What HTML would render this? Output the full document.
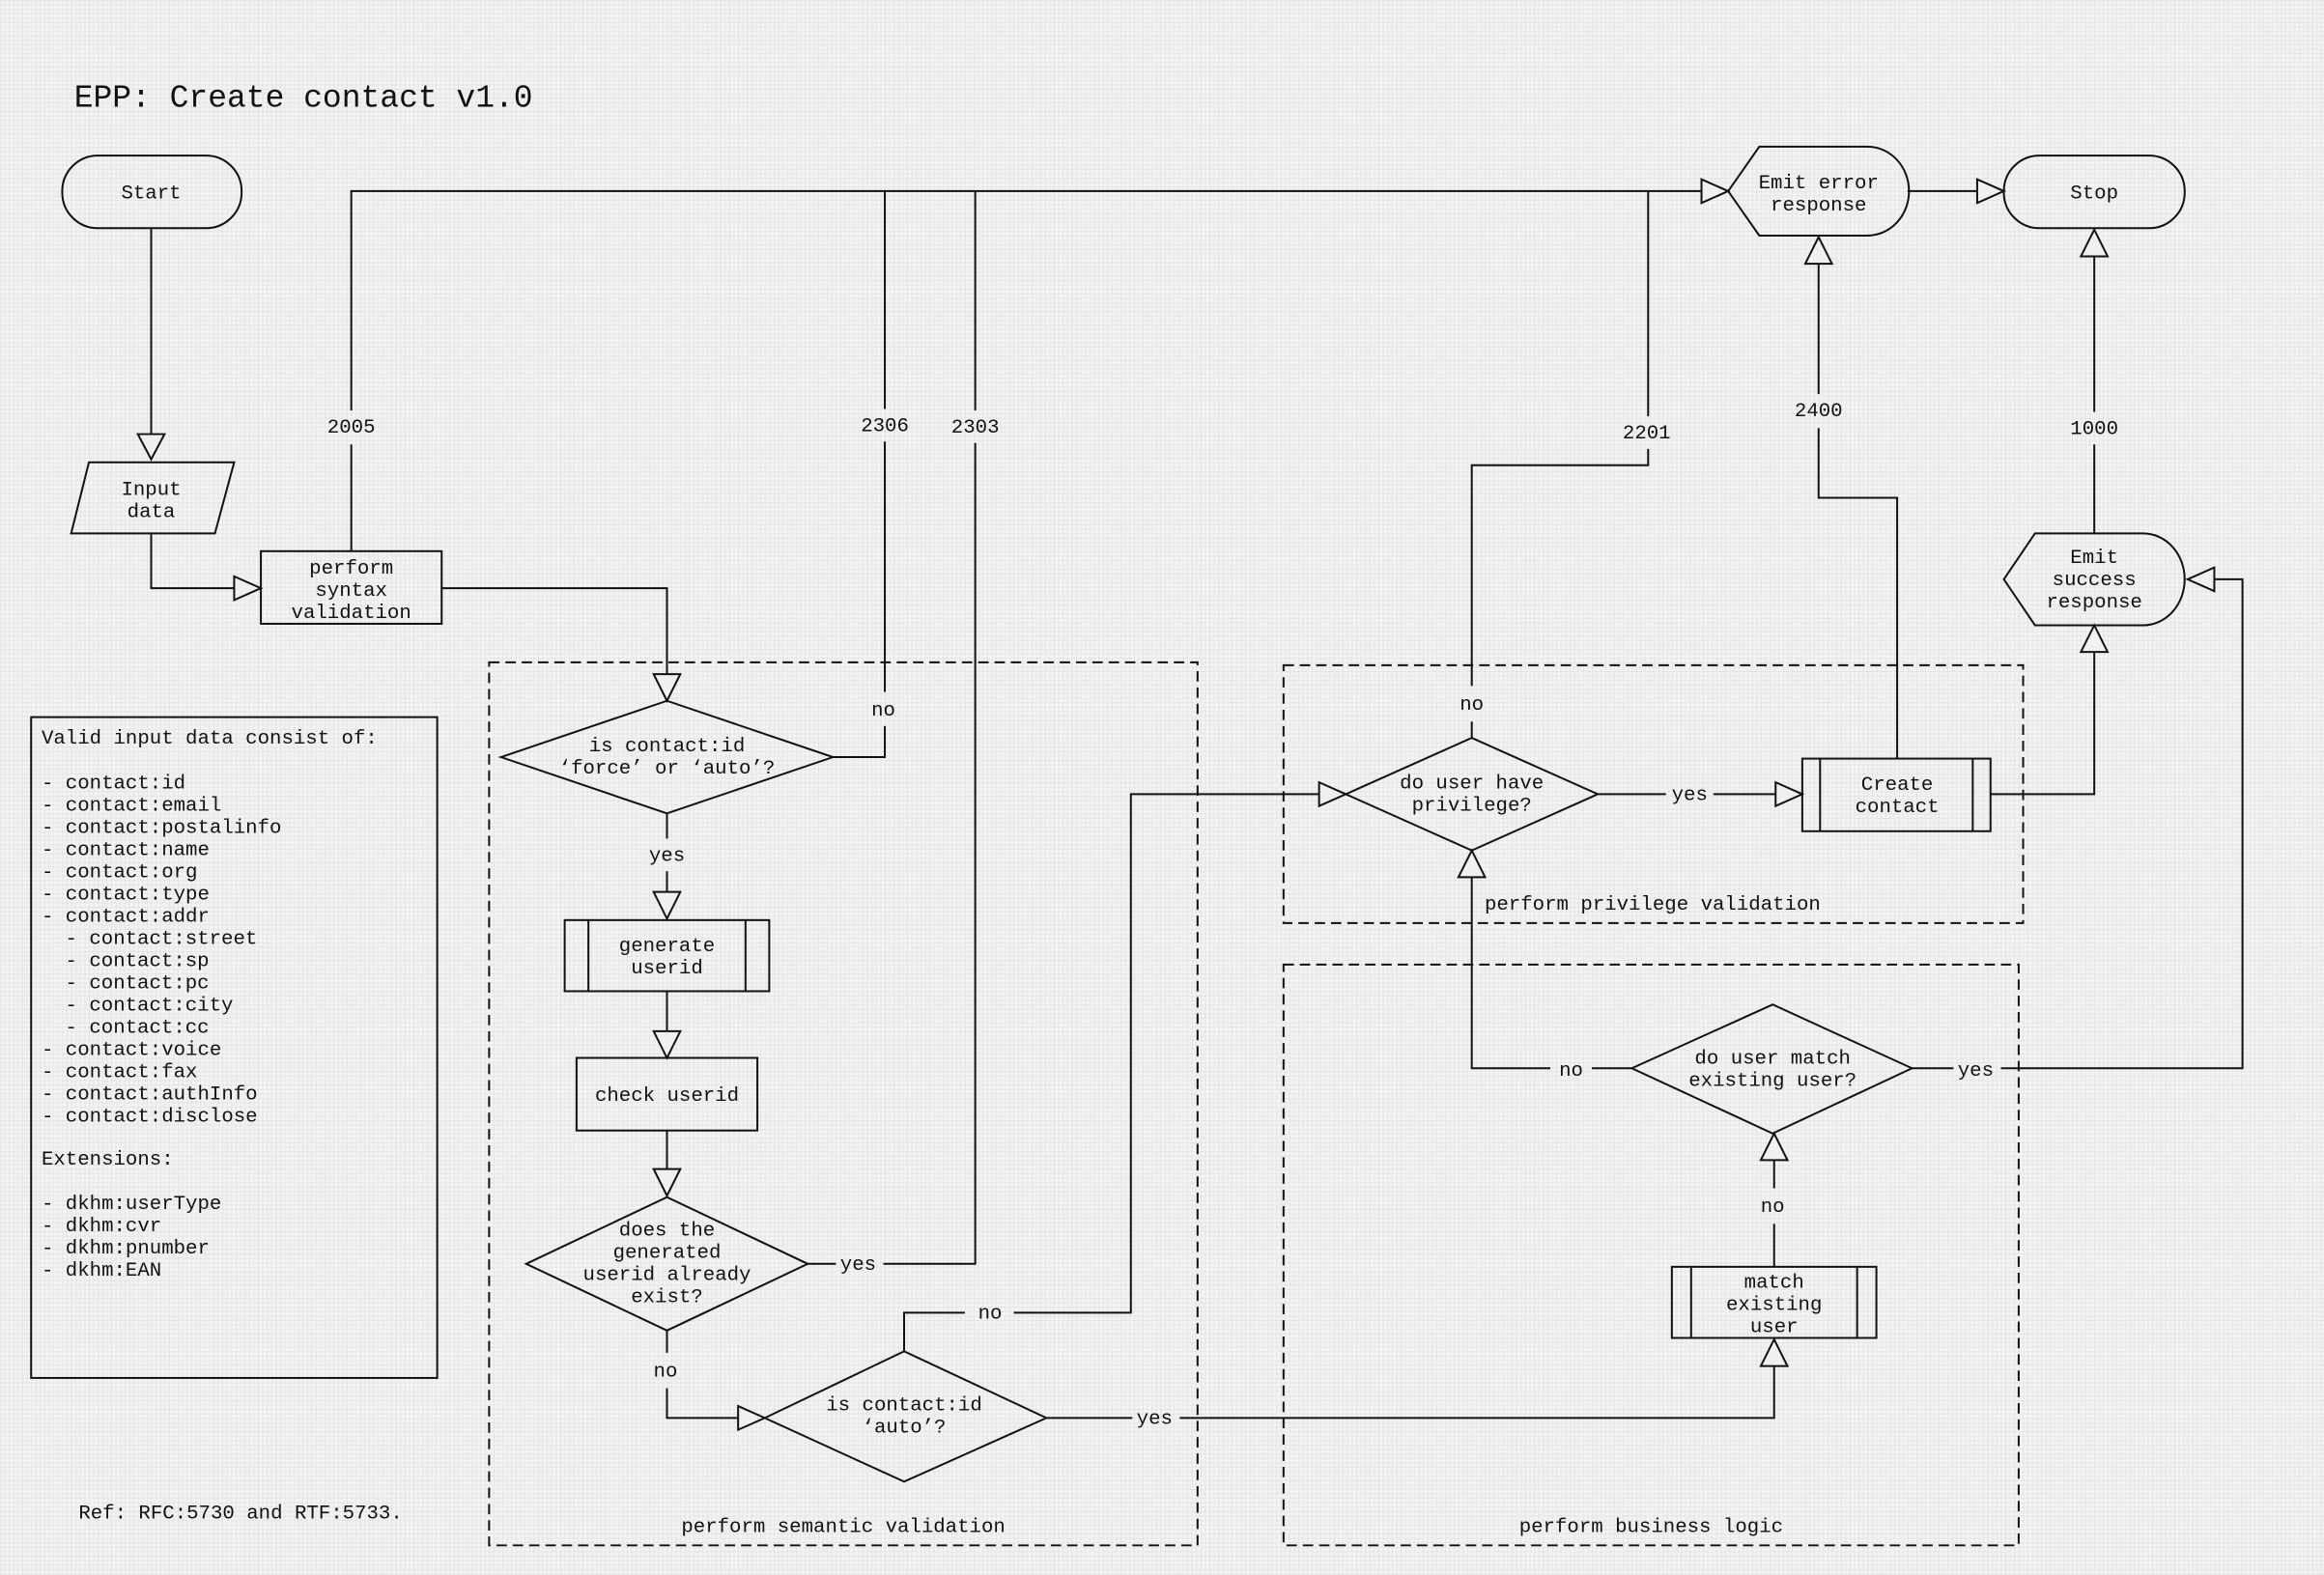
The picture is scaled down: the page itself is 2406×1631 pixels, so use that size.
<!DOCTYPE html>
<html><head><meta charset="utf-8"><style>
html,body{margin:0;padding:0;background:#efefef;}
svg{display:block;}
text{font-family:"Liberation Mono","DejaVu Sans Mono",monospace;font-size:13.5px;fill:#111;}
</style></head><body>
<svg width="2406" height="1631" viewBox="0 0 1568 1063" preserveAspectRatio="none" xmlns="http://www.w3.org/2000/svg">
<defs><pattern id="g" width="3" height="3" patternUnits="userSpaceOnUse"><rect width="3" height="3" fill="#f3f3f3"/><rect width="3" height="0.6" fill="#e4e4e4"/><rect width="0.6" height="3" fill="#e4e4e4"/></pattern></defs>
<rect width="1568" height="1063" fill="url(#g)"/>
<g fill="none" stroke="#111" stroke-width="1.3">
<rect x="330" y="447" width="478" height="596" stroke-dasharray="7,4"/>
<rect x="866" y="449" width="499" height="174" stroke-dasharray="7,4"/>
<rect x="866" y="651" width="496" height="392" stroke-dasharray="7,4"/>
<rect x="21" y="484" width="274" height="446"/>
<rect x="42" y="105" width="121" height="49" rx="24"/>
<rect x="1352" y="105" width="122" height="49" rx="24"/>
<polygon points="60,312 158,312 145,360 48,360"/>
<rect x="176" y="372" width="122" height="49"/>
<path d="M1166,129 L1187,99 L1260,99 A28,30 0 0 1 1260,159 L1187,159 Z"/>
<path d="M1352,391 L1373,360 L1446,360 A28,31 0 0 1 1446,422 L1373,422 Z"/>
<polygon points="338,511 450,473 562,511 450,549"/>
<rect x="381" y="621" width="138" height="48"/><line x1="397" y1="621" x2="397" y2="669"/><line x1="503" y1="621" x2="503" y2="669"/>
<rect x="389" y="714" width="122" height="49"/>
<polygon points="355,853 450,808 545,853 450,898"/>
<polygon points="516,957 610,912 706,957 610,1000"/>
<polygon points="908,536 993,498 1078,536 993,574"/>
<rect x="1216" y="512" width="127" height="49"/><line x1="1228" y1="512" x2="1228" y2="561"/><line x1="1331" y1="512" x2="1331" y2="561"/>
<polygon points="1101,721 1196,678 1290,721 1196,765"/>
<rect x="1128" y="855" width="138" height="48"/><line x1="1141" y1="855" x2="1141" y2="903"/><line x1="1253" y1="855" x2="1253" y2="903"/>
<polyline points="102,154 102,293"/>
<polyline points="102,360 102,397 158,397"/>
<polyline points="237,372 237,300"/><polyline points="237,277 237,129 1148,129"/>
<polyline points="1287,129 1334,129"/>
<polyline points="298,397 450,397 450,455"/>
<polyline points="562,511 597,511 597,490"/><polyline points="597,467 597,298"/><polyline points="597,276 597,129"/>
<polyline points="450,549 450,566"/><polyline points="450,588 450,602"/>
<polyline points="450,669 450,696"/>
<polyline points="450,763 450,789"/>
<polyline points="545,853 564,853"/><polyline points="596,853 658,853 658,299"/><polyline points="658,277 658,129"/>
<polyline points="450,898 450,913"/><polyline points="450,937 450,957 498,957"/>
<polyline points="610,912 610,886 651,886"/><polyline points="684,886 763,886 763,536 890,536"/>
<polyline points="706,957 764,957"/><polyline points="796,957 1197,957 1197,922"/>
<polyline points="993,498 993,487"/><polyline points="993,463 993,314 1112,314 1112,303"/><polyline points="1112,281 1112,129"/>
<polyline points="1078,536 1124,536"/><polyline points="1156,536 1198,536"/>
<polyline points="1280,512 1280,336 1227,336 1227,289"/><polyline points="1227,266 1227,178"/>
<polyline points="1343,536 1413,536 1413,440"/>
<polyline points="1413,360 1413,300"/><polyline points="1413,278 1413,173"/>
<polyline points="1101,721 1074,721"/><polyline points="1046,721 993,721 993,592"/>
<polyline points="1290,721 1318,721"/><polyline points="1350,721 1513,721 1513,391 1494,391"/>
<polyline points="1197,855 1197,826"/><polyline points="1197,802 1197,783"/>
</g>
<g fill="#f0f0f0" stroke="#111" stroke-width="1.3">
<polygon points="93,293 111,293 102,310"/>
<polygon points="158,389 158,405 176,397"/>
<polygon points="1148,121 1148,137 1166,129"/>
<polygon points="1334,121 1334,137 1352,129"/>
<polygon points="441,455 459,455 450,473"/>
<polygon points="441,602 459,602 450,620"/>
<polygon points="441,696 459,696 450,714"/>
<polygon points="441,789 459,789 450,807"/>
<polygon points="498,949 498,965 516,957"/>
<polygon points="890,528 890,544 908,536"/>
<polygon points="1188,922 1206,922 1197,904"/>
<polygon points="1198,528 1198,544 1216,536"/>
<polygon points="1218,178 1236,178 1227,160"/>
<polygon points="1404,440 1422,440 1413,422"/>
<polygon points="1404,173 1422,173 1413,155"/>
<polygon points="984,592 1002,592 993,574"/>
<polygon points="1494,383 1494,399 1476,391"/>
<polygon points="1188,783 1206,783 1197,765"/>
</g>
<text x="50" y="72" style="font-size:21.5px">EPP: Create contact v1.0</text>
<g text-anchor="middle">
<text x="102" y="134">Start</text>
<text x="1413" y="134">Stop</text>
<text x="102" y="334">Input</text><text x="102" y="349">data</text>
<text x="237" y="387">perform</text><text x="237" y="402">syntax</text><text x="237" y="417">validation</text>
<text x="1227" y="127">Emit error</text><text x="1227" y="142">response</text>
<text x="1413" y="380">Emit</text><text x="1413" y="395">success</text><text x="1413" y="410">response</text>
<text x="450" y="507">is contact:id</text><text x="450" y="522">‘force’ or ‘auto’?</text>
<text x="450" y="642">generate</text><text x="450" y="657">userid</text>
<text x="450" y="743">check userid</text>
<text x="450" y="834">does the</text><text x="450" y="849">generated</text><text x="450" y="864">userid already</text><text x="450" y="879">exist?</text>
<text x="610" y="952">is contact:id</text><text x="610" y="967">‘auto’?</text>
<text x="993" y="532">do user have</text><text x="993" y="547">privilege?</text>
<text x="1280" y="533">Create</text><text x="1280" y="548">contact</text>
<text x="1196" y="718">do user match</text><text x="1196" y="733">existing user?</text>
<text x="1197" y="869">match</text><text x="1197" y="884">existing</text><text x="1197" y="899">user</text>
<text x="237" y="292">2005</text><text x="597" y="291">2306</text><text x="658" y="292">2303</text>
<text x="1111" y="296">2201</text><text x="1227" y="281">2400</text><text x="1413" y="293">1000</text>
<text x="596" y="483">no</text><text x="450" y="581">yes</text><text x="579" y="857">yes</text>
<text x="449" y="929">no</text><text x="668" y="890">no</text><text x="779" y="961">yes</text>
<text x="993" y="479">no</text><text x="1140" y="540">yes</text>
<text x="1060" y="726">no</text><text x="1333" y="726">yes</text><text x="1196" y="818">no</text>
<text x="569" y="1034">perform semantic validation</text>
<text x="1115" y="614">perform privilege validation</text>
<text x="1114" y="1034">perform business logic</text>
</g>
<g>
<text x="28" y="502">Valid input data consist of:</text>
<text x="28" y="532">- contact:id</text>
<text x="28" y="547">- contact:email</text>
<text x="28" y="562">- contact:postalinfo</text>
<text x="28" y="577">- contact:name</text>
<text x="28" y="592">- contact:org</text>
<text x="28" y="607">- contact:type</text>
<text x="28" y="622">- contact:addr</text>
<text x="44" y="637">- contact:street</text>
<text x="44" y="652">- contact:sp</text>
<text x="44" y="667">- contact:pc</text>
<text x="44" y="682">- contact:city</text>
<text x="44" y="697">- contact:cc</text>
<text x="28" y="712">- contact:voice</text>
<text x="28" y="727">- contact:fax</text>
<text x="28" y="742">- contact:authInfo</text>
<text x="28" y="757">- contact:disclose</text>
<text x="28" y="786">Extensions:</text>
<text x="28" y="816">- dkhm:userType</text>
<text x="28" y="831">- dkhm:cvr</text>
<text x="28" y="846">- dkhm:pnumber</text>
<text x="28" y="861">- dkhm:EAN</text>
<text x="53" y="1025">Ref: RFC:5730 and RTF:5733.</text>
</g>
</svg>
</body></html>
